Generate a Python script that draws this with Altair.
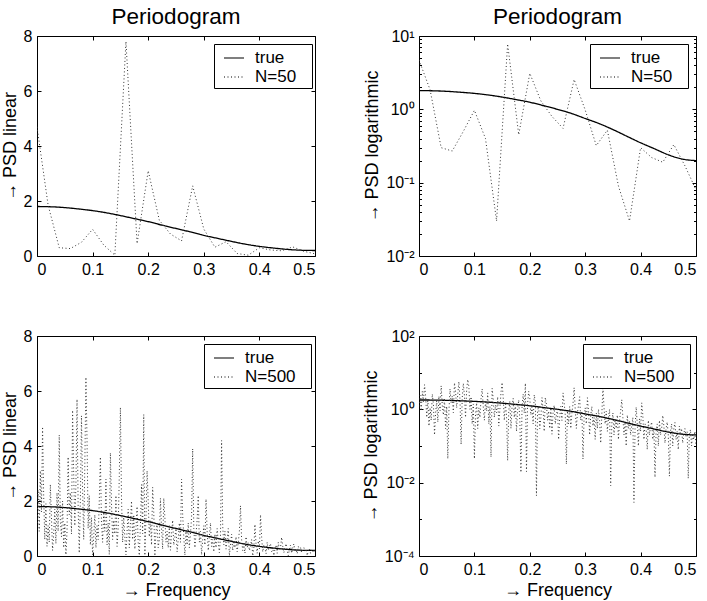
import math
import altair as alt
import pandas as pd

FONT = "Liberation Sans"

# ---- true PSD (solid curve)
true_freq = [0.0, 0.025, 0.05, 0.075, 0.1, 0.125, 0.15, 0.175, 0.2, 0.225, 0.25,
             0.275, 0.3, 0.325, 0.35, 0.375, 0.4, 0.425, 0.45, 0.475, 0.5]
true_psd = [1.80, 1.79, 1.76, 1.71, 1.65, 1.57, 1.47, 1.36, 1.25, 1.12, 1.00,
            0.88, 0.75, 0.64, 0.53, 0.43, 0.35, 0.29, 0.24, 0.21, 0.20]

# ---- periodogram N=50
n50_freq = [0.00, 0.02, 0.04, 0.06, 0.08, 0.10, 0.12, 0.14, 0.16, 0.18, 0.20, 0.22, 0.24,
            0.26, 0.28, 0.30, 0.32, 0.34, 0.36, 0.38, 0.40, 0.42, 0.44, 0.46, 0.48, 0.50]
n50_psd = [4.7, 1.85, 0.3, 0.27, 0.5, 0.97, 0.4, 0.03, 7.8, 0.45, 3.1, 1.3, 0.8,
           0.55, 2.55, 0.98, 0.32, 0.52, 0.09, 0.03, 0.3, 0.22, 0.19, 0.33, 0.17, 0.08]

# ---- periodogram N=500 (step 0.002)
n500_psd = [
    1.2, 2.4, 0.9, 3.1, 1.6, 4.7, 2.2, 0.6, 1.9, 0.35,
    1.1, 0.5, 2.6, 1.4, 0.2, 0.8, 1.7, 0.45, 2.3, 0.9,
    4.4, 1.3, 0.7, 2.0, 0.3, 1.2, 0.045, 0.9, 3.6, 1.5,
    2.3, 0.8, 5.3, 3.0, 1.1, 2.6, 5.7, 1.8, 0.11, 2.0,
    5.1, 2.4, 0.6, 3.3, 6.5, 4.2, 1.0, 2.2, 0.4, 1.4,
    0.045, 0.7, 1.5, 0.3, 1.1, 0.6, 2.0, 3.6, 1.2, 0.5,
    1.6, 0.9, 2.8, 0.4, 1.2, 0.05, 3.75, 1.9, 0.6, 1.3,
    0.8, 2.2, 0.35, 1.0, 2.9, 5.4, 2.1, 0.5, 1.4, 0.7,
    0.04, 0.9, 1.7, 0.3, 1.2, 2.0, 0.6, 1.5, 0.25, 1.0,
    1.8, 0.5, 0.019, 1.1, 2.6, 0.8, 5.15, 0.02, 1.4, 3.1,
    2.0, 0.7, 1.3, 0.4, 2.5, 1.6, 0.0044, 0.9, 1.2, 0.3,
    0.6, 2.1, 1.0, 0.25, 2.1, 1.4, 0.5, 0.9, 0.3, 1.1,
    0.21, 0.8, 1.3, 0.4, 0.7, 1.0, 0.15, 0.6, 1.2, 0.5,
    2.8, 1.5, 0.7, 0.032, 0.9, 0.4, 1.2, 0.3, 0.8, 1.4,
    3.9, 1.0, 0.3, 0.8, 1.3, 2.2, 0.5, 0.9, 0.044, 0.6,
    1.1, 0.4, 2.07, 0.9, 0.2, 0.7, 1.2, 0.35, 0.6, 0.15,
    0.8, 0.3, 1.0, 0.5, 0.12, 0.7, 4.2, 1.1, 0.4, 0.9,
    0.25, 0.6, 1.0, 0.0083, 0.4, 0.8, 0.2, 0.55, 0.3, 0.7,
    0.15, 0.5, 0.9, 1.83, 0.6, 0.2, 0.45, 0.1, 0.7, 0.3,
    0.5, 0.2, 0.35, 0.6, 0.0029, 0.3, 1.15, 0.4, 0.1, 0.55,
    0.25, 1.5, 0.7, 0.15, 0.4, 0.3, 0.08, 0.5, 0.2, 0.35,
    0.45, 0.15, 0.3, 0.014, 0.25, 0.4, 0.1, 0.5, 0.2, 0.3,
    0.68, 0.35, 0.12, 0.3, 0.45, 0.2, 0.015, 0.25, 0.4, 0.1,
    0.3, 0.44, 0.15, 0.25, 0.08, 0.35, 0.2, 0.3, 0.12, 0.22,
    0.3, 0.18, 0.25, 0.013, 0.2, 0.28, 0.1, 0.22, 0.15, 0.25, 0.1,
]
n500_freq = [round(i * 0.002, 3) for i in range(len(n500_psd))]

x_ticks = [0, 0.1, 0.2, 0.3, 0.4, 0.5]
lin_ticks = [0, 2, 4, 6, 8]
log_ticks_top = [0.01, 0.1, 1, 10]
log_minor_top = [m * d for d in (0.01, 0.1, 1) for m in range(2, 10)]
log_ticks_bot = [1e-4, 1e-2, 1, 100]
log_minor_bot = [1e-3, 1e-1, 10]

SUP = {"-": "\u207b", "0": "\u2070", "1": "\u00b9", "2": "\u00b2", "3": "\u00b3", "4": "\u2074"}


def log_label_expr(ticks):
    parts = []
    for t in ticks:
        e = int(round(math.log10(t)))
        s = "10" + "".join(SUP[c] for c in str(e))
        parts.append(f"abs(log(datum.value)/LN10 - ({e})) < 0.01 ? '{s}'")
    return " : ".join(parts) + " : ''"


W1, W2, H = 278, 277, 220


def panel(f_est, p_est, est_name, ylog, ydomain, yticks, yminor, ytitle, width,
          title=None, xtitle=None, legend_x=178):
    df = pd.DataFrame({
        "f": list(true_freq) + list(f_est),
        "psd": list(true_psd) + list(p_est),
        "series": ["true"] * len(true_freq) + [est_name] * len(f_est),
    })
    xs = alt.Scale(domain=[0, 0.5], nice=False, zero=False)
    if ylog:
        ys = alt.Scale(type="log", domain=ydomain, nice=False)
    else:
        ys = alt.Scale(domain=ydomain, nice=False)
    yaxis_kw = dict(values=yticks, ticks=False, domain=False, grid=False, labelPadding=5,
                    titlePadding=4, labelFontSize=16, titleFontSize=18)
    if ylog:
        yaxis_kw["labelExpr"] = log_label_expr(yticks)
    xaxis_kw = dict(values=x_ticks, format="~g", ticks=False, domain=False, grid=False,
                    labelPadding=5, titlePadding=4, labelFontSize=16, titleFontSize=18)

    dash = alt.StrokeDash(
        "series:N",
        scale=alt.Scale(domain=["true", est_name], range=[[1, 0], [1, 2.5]]),
        legend=alt.Legend(
            title=None, orient="none", legendX=legend_x, legendY=8,
            symbolType="stroke", symbolSize=400, symbolStrokeWidth=1.2,
            symbolStrokeColor="black", symbolOffset=6, labelFontSize=17, labelFont=FONT,
            labelColor="black", labelOffset=10, strokeColor="black",
            fillColor="white", padding=3, rowPadding=0, cornerRadius=0,
            labelExpr="datum.label + '\u2800'",
        ),
    )
    base = alt.Chart(df)
    true_line = base.transform_filter(alt.datum.series == "true").mark_line(
        strokeWidth=1.3, clip=True, interpolate="monotone", color="black"
    ).encode(
        x=alt.X("f:Q", scale=xs, axis=alt.Axis(**xaxis_kw), title=xtitle),
        y=alt.Y("psd:Q", scale=ys, axis=alt.Axis(**yaxis_kw), title=ytitle),
        strokeDash=dash,
    )
    est_line = base.transform_filter(alt.datum.series == est_name).mark_line(
        strokeWidth=1, clip=True, color="#333333"
    ).encode(
        x=alt.X("f:Q", scale=xs, axis=alt.Axis(**xaxis_kw), title=xtitle),
        y=alt.Y("psd:Q", scale=ys, axis=alt.Axis(**yaxis_kw), title=ytitle),
        strokeDash=dash,
    )

    def ticks_layer(ox, oy, xvals, yvals, size):
        enc = {}
        if xvals is not None:
            enc["x"] = alt.X("f:Q", scale=xs, title=None, axis=alt.Axis(
                orient=ox, values=xvals, labels=False, domain=False, grid=False,
                tickSize=size, offset=-size, tickColor="black", tickWidth=1))
        else:
            enc["x"] = alt.X("f:Q", scale=xs, axis=None)
        enc["y"] = alt.Y("psd:Q", scale=ys, title=None, axis=alt.Axis(
            orient=oy, values=yvals, labels=False, domain=False, grid=False,
            tickSize=size, offset=-size, tickColor="black", tickWidth=1))
        return base.mark_point(opacity=0, size=1).encode(**enc)

    layers = [alt.layer(true_line, est_line),
              ticks_layer("bottom", "left", x_ticks, yticks, 4),
              ticks_layer("top", "right", x_ticks, yticks, 4)]
    if yminor:
        layers.append(ticks_layer(None, "left", None, yminor, 2.5))
        layers.append(ticks_layer(None, "right", None, yminor, 2.5))

    ch = alt.layer(*layers).resolve_axis(x="independent", y="independent").properties(
        width=width, height=H)
    if title:
        ch = ch.properties(title=alt.Title(title, fontSize=22.5, font=FONT, fontWeight="normal",
                                           color="black", frame="group", anchor="middle",
                                           baseline="alphabetic", offset=-18))
    return ch


tl = panel(n50_freq, n50_psd, "N=50", False, [0, 8], lin_ticks, None,
           "\u2192 PSD linear", W1, title="Periodogram", legend_x=177)
tr = panel(n50_freq, n50_psd, "N=50", True, [0.01, 10], log_ticks_top, log_minor_top,
           "\u2192 PSD logarithmic", W2, title="Periodogram", legend_x=171)
bl = panel(n500_freq, n500_psd, "N=500", False, [0, 8], lin_ticks, None,
           "\u2192 PSD linear", W1, xtitle="\u2192 Frequency", legend_x=167)
br = panel(n500_freq, n500_psd, "N=500", True, [1e-4, 100], log_ticks_bot, log_minor_bot,
           "\u2192 PSD logarithmic", W2, xtitle="\u2192 Frequency", legend_x=164)

chart = alt.concat(
    tl, tr, bl, br, columns=2, spacing={"row": 80, "column": 104}, bounds="flush"
).resolve_scale(
    strokeDash="independent"
).properties(
    padding={"left": 0, "top": 5, "right": 5, "bottom": 5},
    background="white",
).configure(
    font=FONT,
).configure_view(
    stroke="black", strokeWidth=1,
).configure_axis(
    labelFont=FONT, titleFont=FONT, labelColor="black", titleColor="black",
    titleFontWeight="normal",
)

chart.save("out.html", embed_options={"renderer": "svg", "actions": False})
